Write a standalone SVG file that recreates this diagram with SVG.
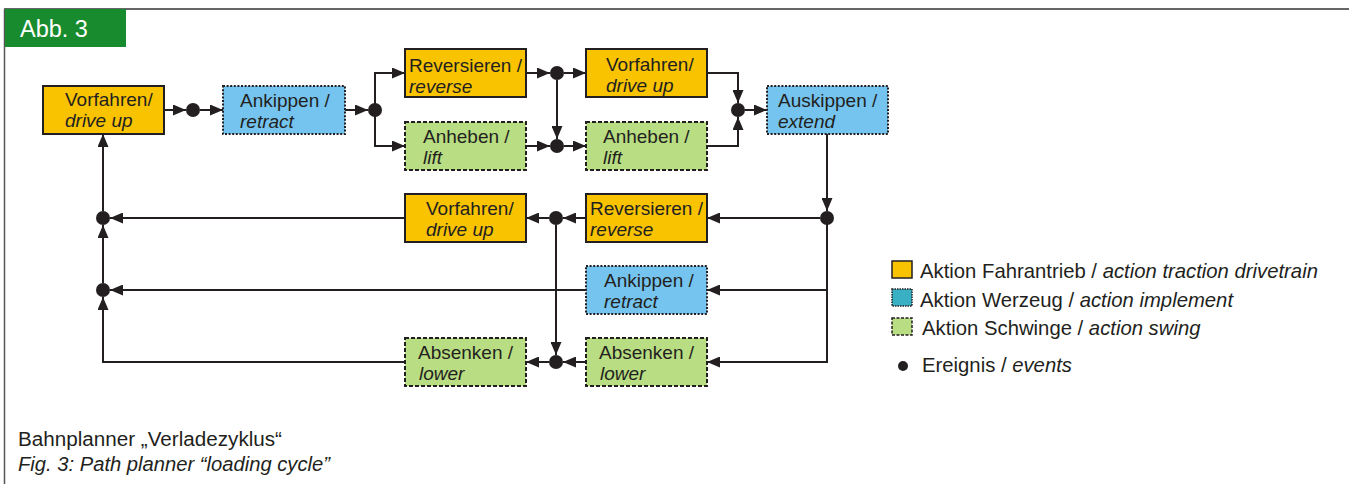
<svg xmlns="http://www.w3.org/2000/svg" width="1349" height="484" viewBox="0 0 1349 484">
<style>
text{font-family:"Liberation Sans",Arial,sans-serif;fill:#231f20}
.nt{font-size:19px}
.it{font-style:italic}
.box{stroke:#231f20;stroke-width:2}
.y{fill:#f9c300}
.b{fill:#74c4ef;stroke-dasharray:2 1.6}
.g{fill:#b9dd82;stroke-dasharray:4 2}
.c{fill:none;stroke:#231f20;stroke-width:2}
.dot{fill:#231f20}
.lg{font-size:20.3px}
.cap{font-size:19.5px}
</style>
<defs>
<marker id="ah" markerUnits="userSpaceOnUse" markerWidth="14" markerHeight="11" refX="13" refY="5.5" orient="auto">
<path d="M0,0 L13,5.5 L0,11 z" fill="#231f20"/>
</marker>
</defs>
<rect width="1349" height="484" fill="#fff"/>
<g id="frame">
<line x1="4.5" y1="9" x2="4.5" y2="484" stroke="#555" stroke-width="1.5"/>
<line x1="4" y1="9" x2="1349" y2="9" stroke="#666" stroke-width="2"/>
<rect x="5" y="9" width="121" height="38" fill="#178b2d"/>
<text x="20" y="37" style="font-size:23.5px;fill:#fff">Abb. 3</text>
</g>
<g id="connectors">
<line class="c" x1="164" y1="110" x2="186" y2="110" marker-end="url(#ah)"/>
<line class="c" x1="200" y1="110" x2="223" y2="110" marker-end="url(#ah)"/>
<line class="c" x1="345" y1="110" x2="368" y2="110" marker-end="url(#ah)"/>
<path class="c" d="M375,110 V73 H405" marker-end="url(#ah)"/>
<path class="c" d="M375,110 V146 H405" marker-end="url(#ah)"/>
<line class="c" x1="526" y1="73" x2="550" y2="73" marker-end="url(#ah)"/>
<line class="c" x1="564" y1="73" x2="586" y2="73" marker-end="url(#ah)"/>
<line class="c" x1="557" y1="80" x2="557" y2="139" marker-end="url(#ah)"/>
<line class="c" x1="526" y1="146" x2="550" y2="146" marker-end="url(#ah)"/>
<line class="c" x1="564" y1="146" x2="586" y2="146" marker-end="url(#ah)"/>
<path class="c" d="M707,73 H738 V103" marker-end="url(#ah)"/>
<path class="c" d="M707,146 H738 V117" marker-end="url(#ah)"/>
<line class="c" x1="745" y1="110" x2="767" y2="110" marker-end="url(#ah)"/>
<line class="c" x1="827" y1="134" x2="827" y2="211" marker-end="url(#ah)"/>
<line class="c" x1="820" y1="218" x2="707" y2="218" marker-end="url(#ah)"/>
<path class="c" d="M827,218 V362 H707" marker-end="url(#ah)"/>
<line class="c" x1="827" y1="290" x2="707" y2="290" marker-end="url(#ah)"/>
<line class="c" x1="586" y1="218" x2="563" y2="218" marker-end="url(#ah)"/>
<line class="c" x1="549" y1="218" x2="526" y2="218" marker-end="url(#ah)"/>
<line class="c" x1="556" y1="225" x2="556" y2="355" marker-end="url(#ah)"/>
<line class="c" x1="586" y1="362" x2="563" y2="362" marker-end="url(#ah)"/>
<line class="c" x1="549" y1="362" x2="526" y2="362" marker-end="url(#ah)"/>
<line class="c" x1="586" y1="290" x2="110" y2="290" marker-end="url(#ah)"/>
<line class="c" x1="405" y1="218" x2="110" y2="218" marker-end="url(#ah)"/>
<path class="c" d="M405,362 H103 V297" marker-end="url(#ah)"/>
<line class="c" x1="103" y1="283" x2="103" y2="225" marker-end="url(#ah)"/>
<line class="c" x1="103" y1="211" x2="103" y2="134" marker-end="url(#ah)"/>
</g>
<g id="events">
<circle class="dot" cx="193" cy="110" r="7"/>
<circle class="dot" cx="375" cy="110" r="7"/>
<circle class="dot" cx="557" cy="73" r="7"/>
<circle class="dot" cx="557" cy="146" r="7"/>
<circle class="dot" cx="738" cy="110" r="7"/>
<circle class="dot" cx="827" cy="218" r="7"/>
<circle class="dot" cx="556" cy="218" r="7"/>
<circle class="dot" cx="556" cy="362" r="7"/>
<circle class="dot" cx="103" cy="218" r="7"/>
<circle class="dot" cx="103" cy="290" r="7"/>
</g>
<g id="n1"><rect class="box y" x="43" y="86" width="121" height="48"/><text class="nt" x="65" y="106">Vorfahren/</text><text class="nt it" x="65" y="127">drive up</text></g>
<g id="n2"><rect class="box b" x="223" y="86" width="122" height="48"/><text class="nt" x="240" y="107">Ankippen /</text><text class="nt it" x="240" y="128">retract</text></g>
<g id="n3"><rect class="box y" x="405" y="49" width="121" height="48"/><text class="nt" x="409" y="72">Reversieren /</text><text class="nt it" x="409" y="93">reverse</text></g>
<g id="n4"><rect class="box g" x="405" y="122" width="121" height="48"/><text class="nt" x="423" y="143">Anheben /</text><text class="nt it" x="423" y="164">lift</text></g>
<g id="n5"><rect class="box y" x="586" y="49" width="121" height="48"/><text class="nt" x="606" y="71">Vorfahren/</text><text class="nt it" x="606" y="92">drive up</text></g>
<g id="n6"><rect class="box g" x="586" y="122" width="121" height="48"/><text class="nt" x="603" y="143">Anheben /</text><text class="nt it" x="603" y="164">lift</text></g>
<g id="n7"><rect class="box b" x="767" y="86" width="121" height="48"/><text class="nt" x="778" y="107">Auskippen /</text><text class="nt it" x="778" y="128">extend</text></g>
<g id="n8"><rect class="box y" x="586" y="194" width="121" height="48"/><text class="nt" x="590" y="215">Reversieren /</text><text class="nt it" x="590" y="236">reverse</text></g>
<g id="n9"><rect class="box b" x="586" y="266" width="121" height="48"/><text class="nt" x="604" y="287">Ankippen /</text><text class="nt it" x="604" y="308">retract</text></g>
<g id="n10"><rect class="box g" x="586" y="338" width="121" height="48"/><text class="nt" x="599" y="359">Absenken /</text><text class="nt it" x="600" y="380">lower</text></g>
<g id="n11"><rect class="box y" x="405" y="194" width="121" height="48"/><text class="nt" x="426" y="215">Vorfahren/</text><text class="nt it" x="426" y="236">drive up</text></g>
<g id="n12"><rect class="box g" x="405" y="338" width="121" height="48"/><text class="nt" x="418" y="359">Absenken /</text><text class="nt it" x="419" y="380">lower</text></g>
<g id="legend">
<rect x="892" y="261" width="20" height="17" fill="#f9c300" stroke="#231f20" stroke-width="1.5"/>
<rect x="892" y="289" width="20" height="17" fill="#3ab0c5" stroke="#231f20" stroke-width="1.5" stroke-dasharray="1.5 1"/>
<rect x="892" y="318" width="20" height="17" fill="#b9dd82" stroke="#231f20" stroke-width="1.5" stroke-dasharray="3 1.5"/>
<circle class="dot" cx="903" cy="366" r="5"/>
<text class="lg" x="920" y="278">Aktion Fahrantrieb / <tspan class="it">action traction drivetrain</tspan></text>
<text class="lg" x="920" y="307">Aktion Werzeug / <tspan class="it">action implement</tspan></text>
<text class="lg" x="922" y="335">Aktion Schwinge / <tspan class="it">action swing</tspan></text>
<text class="lg" x="922" y="372">Ereignis / <tspan class="it">events</tspan></text>
</g>
<g id="caption">
<text class="cap" x="18" y="446" textLength="264" lengthAdjust="spacingAndGlyphs">Bahnplanner „Verladezyklus“</text>
<text class="cap it" x="18" y="471" textLength="312" lengthAdjust="spacingAndGlyphs">Fig. 3: Path planner “loading cycle”</text>
</g>
</svg>
